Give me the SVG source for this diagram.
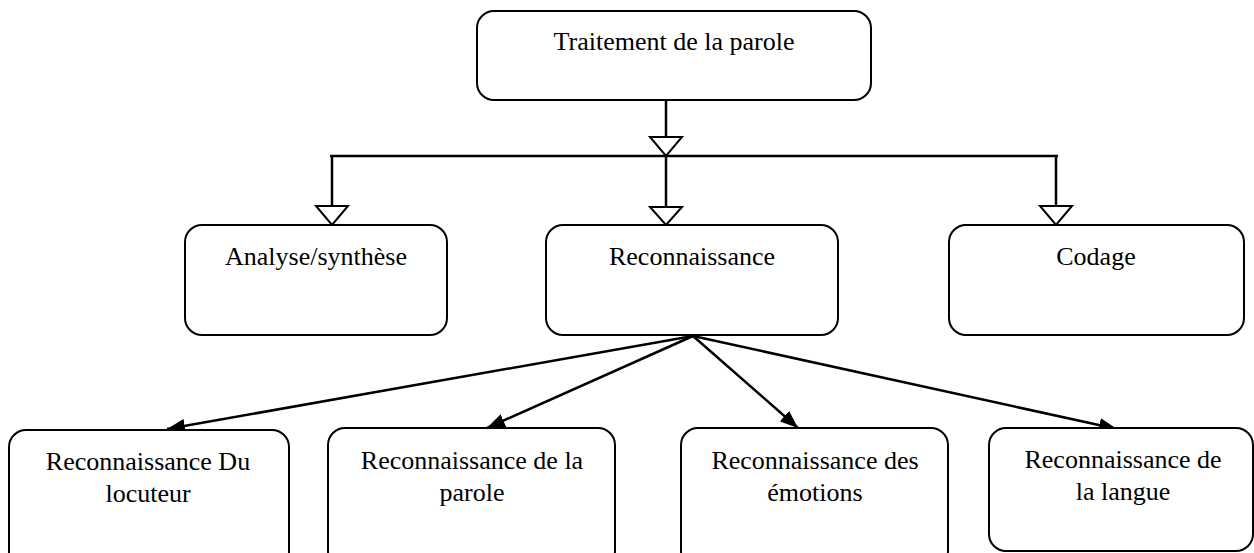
<svg xmlns="http://www.w3.org/2000/svg" width="1254" height="553" viewBox="0 0 1254 553">
<defs>
<style>
.box{fill:#fff;stroke:#000;stroke-width:2}
.t{font-family:"Liberation Serif","Times New Roman",serif;font-size:26px;fill:#000;text-anchor:middle}
.ln{fill:none;stroke:#000;stroke-width:2.5}
.open{fill:#fff;stroke:#000;stroke-width:2}
</style>
<marker id="fill" markerUnits="userSpaceOnUse" viewBox="0 0 18 14" refX="18" refY="7" markerWidth="18" markerHeight="14" orient="auto">
<path d="M0,0 L18,7 L0,14 z" fill="#000"/>
</marker>
</defs>
<g id="connectors">
<path class="ln" d="M666,100 V137"/>
<path class="ln" d="M330,156 H1058"/>
<path class="ln" d="M332,156 V206"/>
<path class="ln" d="M666,156 V208"/>
<path class="ln" d="M1056,156 V206"/>
<polygon class="open" points="650,137 682,137 666,156"/>
<polygon class="open" points="316,206 348,206 332,225"/>
<polygon class="open" points="650,207 682,207 666,225"/>
<polygon class="open" points="1040,206 1072,206 1056,225"/>
<path class="ln" d="M693,336 L167,429" marker-end="url(#fill)"/>
<path class="ln" d="M693,336 L487,428" marker-end="url(#fill)"/>
<path class="ln" d="M693,336 L798,428" marker-end="url(#fill)"/>
<path class="ln" d="M693,336 L1117,429" marker-end="url(#fill)"/>
</g>
<g id="n-traitement">
<rect class="box" x="477" y="11" width="394" height="89" rx="17"/>
<text class="t" x="674" y="50">Traitement de la parole</text>
</g>
<g id="n-analyse">
<rect class="box" x="185" y="225" width="262" height="110" rx="17"/>
<text class="t" x="316" y="265">Analyse/synthèse</text>
</g>
<g id="n-reconnaissance">
<rect class="box" x="546" y="225" width="292" height="110" rx="17"/>
<text class="t" x="692" y="265">Reconnaissance</text>
</g>
<g id="n-codage">
<rect class="box" x="949" y="225" width="295" height="110" rx="17"/>
<text class="t" x="1096" y="265">Codage</text>
</g>
<g id="n-locuteur">
<rect class="box" x="9" y="430" width="280" height="140" rx="17"/>
<text class="t" x="148" y="470">Reconnaissance Du</text>
<text class="t" x="148" y="502">locuteur</text>
</g>
<g id="n-parole">
<rect class="box" x="328" y="428" width="287" height="140" rx="17"/>
<text class="t" x="472" y="469">Reconnaissance de la</text>
<text class="t" x="472" y="501">parole</text>
</g>
<g id="n-emotions">
<rect class="box" x="681" y="428" width="267" height="140" rx="17"/>
<text class="t" x="815" y="469">Reconnaissance des</text>
<text class="t" x="815" y="501">émotions</text>
</g>
<g id="n-langue">
<rect class="box" x="989" y="428" width="264" height="123" rx="17"/>
<text class="t" x="1123" y="468">Reconnaissance de</text>
<text class="t" x="1123" y="500">la langue</text>
</g>
</svg>
